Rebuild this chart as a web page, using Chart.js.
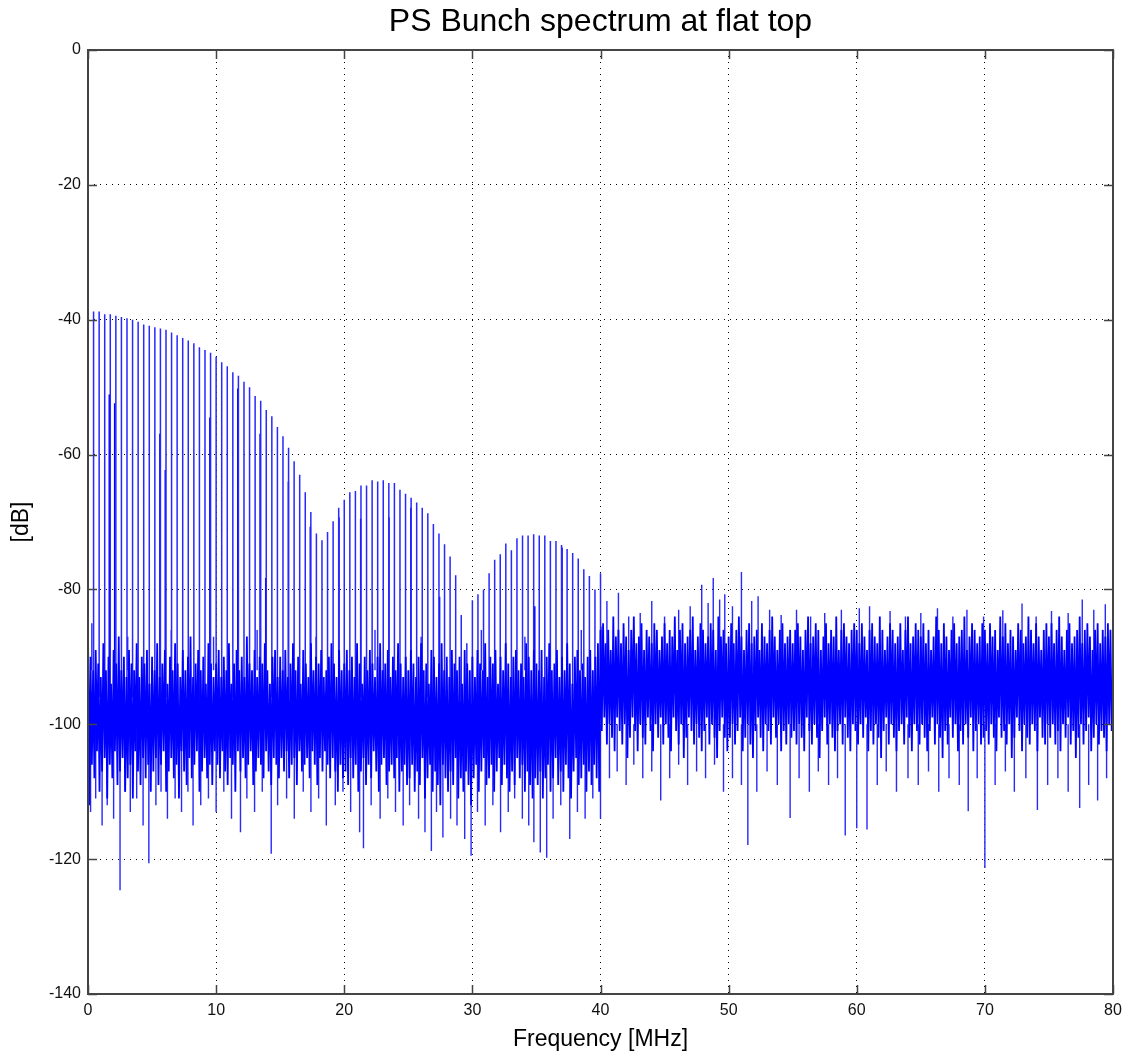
<!DOCTYPE html>
<html>
<head>
<meta charset="utf-8">
<title>PS Bunch spectrum at flat top</title>
<script src="https://cdn.jsdelivr.net/npm/chart.js@4.4.1/dist/chart.umd.min.js"></script>
<style>
  html, body { margin: 0; padding: 0; background: #fff; }
  #wrap { width: 1122px; height: 1055px; position: relative; }
  #title {
    position: absolute; left: 88px; width: 1025px; top: 2px;
    text-align: center; color: #000;
    font: 32px 'Liberation Sans', Arial, Helvetica, sans-serif;
  }
</style>
</head>
<body>
<div id="wrap">
  <div id="title">PS Bunch spectrum at flat top</div>
  <canvas id="spectrum"></canvas>
</div>
<script>
// axis ticks
const xTicks = [0, 10, 20, 30, 40, 50, 60, 70, 80];
const yTicks = [0, -20, -40, -60, -80, -100, -120, -140];

// revolution harmonics: peak level [dB] of harmonic n (n = index), spacing in MHz
const harmonicSpacing = 0.4348;
const harmonicPeaks = [
  -79,
  -38.8, -38.8, -39.2, -39.2, -39.4, -39.6, -39.8, -40.0, -40.3, -40.7,
  -40.9, -41.1, -41.3, -41.5, -41.9, -42.3, -42.7, -43.1, -43.5, -44.1,
  -44.5, -44.9, -45.5, -46.3, -46.9, -47.8, -48.3, -49.2, -50.0, -51.3,
  -52.0, -53.4, -54.3, -55.9, -57.3, -59.0, -61.0, -63.0, -65.6, -68.5,
  -71.7, -72.7, -71.5, -69.9, -67.9, -66.7, -65.6, -65.4, -64.6, -64.6,
  -63.8, -64.0, -63.8, -64.2, -64.2, -65.2, -65.8, -66.4, -67.1, -67.9,
  -68.7, -70.3, -71.7, -73.3, -75.1, -77.9, -83.8, -88.0, -81.6, -80.7,
  -80.0, -77.6, -75.6, -74.8, -73.2, -74.2, -72.4, -72.0, -72.0, -71.8,
  -72.0, -72.0, -72.8, -72.8, -73.4, -74.0, -74.6, -75.4, -77.0, -78.0,
  -80.0, -77.6
];
// weaker lines sitting right next to some harmonics [MHz, dB]
const sidebandPeaks = [
  [1.66, -51.1], [2.08, -52.4], [5.61, -56.9], [6.03, -62.3], [9.51, -54.5],
  [11.69, -50.2], [13.43, -56.9], [13.87, -78.3], [15.64, -64.0], [17.35, -70.7],
  [19.59, -69.3], [21.28, -69.5], [23.49, -69.3], [25.2, -67.9], [27.44, -81.1],
  [34.87, -82.5], [37.0, -73.8]
];

// noise floor, sampled every 0.2 MHz: upper and lower excursion
const noiseStep = 0.2;
const noiseHi = [
  -86, -90, -92, -89, -91, -93, -88, -92, -90, -94, -89, -91, -87, -92, -90, -93, -89, -91, -92, -88, -93, -90, -91, -89, -94,
  -90, -92, -88, -93, -91, -89, -94, -90, -92, -88, -91, -93, -89, -92, -90, -87, -93, -91, -89, -92, -90, -94, -88, -91, -93,
  -91, -89, -93, -90, -92, -88, -94, -91, -89, -92, -90, -93, -87, -91, -92, -89, -93, -90, -91, -88, -92, -94, -90, -89, -93,
  -90, -92, -89, -93, -91, -88, -92, -90, -94, -89, -91, -93, -88, -92, -90, -91, -89, -93, -92, -90, -88, -91, -93, -89, -92,
  -91, -89, -92, -90, -93, -88, -91, -94, -90, -92, -89, -91, -93, -90, -88, -92, -91, -89, -93, -90, -92, -88, -91, -93, -90,
  -92, -89, -91, -93, -90, -88, -92, -91, -94, -89, -90, -93, -91, -88, -92, -90, -93, -89, -91, -92, -90, -94, -89, -91, -92,
  -90, -93, -89, -91, -92, -88, -93, -90, -91, -89, -94, -90, -92, -88, -91, -93, -90, -89, -92, -91, -93, -88, -90, -92, -89,
  -91, -92, -89, -93, -90, -88, -92, -91, -89, -93, -90, -92, -88, -91, -94, -90, -89, -92, -91, -93, -90, -89, -92, -90, -88,
  -86, -85, -88, -86, -89, -84, -87, -86, -88, -85, -87, -89, -86, -84, -88, -87, -85, -89, -86, -87, -88, -85, -86, -89, -87,
  -85, -88, -86, -87, -84, -89, -86, -85, -88, -87, -86, -84, -89, -87, -85, -86, -88, -87, -85, -86, -89, -84, -87, -86, -88,
  -87, -85, -88, -86, -84, -87, -89, -86, -85, -88, -87, -86, -89, -85, -87, -88, -86, -84, -87, -89, -86, -85, -88, -87, -86,
  -88, -86, -85, -87, -89, -86, -84, -88, -87, -85, -86, -89, -87, -85, -88, -86, -87, -84, -89, -86, -85, -87, -88, -86, -85,
  -86, -88, -85, -87, -89, -86, -85, -87, -88, -84, -86, -89, -87, -85, -86, -88, -87, -85, -89, -86, -84, -88, -87, -85, -86,
  -87, -85, -88, -86, -89, -87, -84, -86, -88, -85, -87, -89, -86, -85, -88, -87, -86, -84, -89, -87, -85, -86, -88, -87, -85,
  -86, -88, -85, -87, -86, -89, -84, -87, -85, -88, -86, -87, -89, -85, -86, -88, -87, -84, -86, -88, -85, -87, -89, -86, -85,
  -87, -85, -88, -86, -84, -87, -89, -86, -85, -88, -87, -86, -84, -88, -86, -85, -87, -89, -86, -85, -88, -86, -87, -85, -86
];
const noiseLo = [
  -112, -106, -108, -104, -110, -107, -105, -111, -106, -108, -104, -109, -107, -105, -110, -108, -106, -111, -104, -107, -109, -105, -108, -106, -110,
  -107, -105, -109, -106, -104, -110, -107, -105, -108, -106, -111, -104, -107, -109, -105, -108, -106, -104, -110, -107, -105, -108, -106, -109, -104,
  -106, -108, -104, -107, -109, -105, -106, -110, -104, -107, -105, -108, -106, -104, -109, -107, -105, -106, -108, -104, -107, -109, -105, -106, -108,
  -105, -107, -104, -108, -106, -105, -109, -104, -107, -106, -105, -108, -104, -106, -109, -105, -107, -104, -106, -108, -105, -107, -110, -106, -108,
  -107, -109, -105, -108, -106, -110, -107, -105, -109, -106, -108, -104, -107, -110, -106, -105, -109, -107, -106, -108, -105, -110, -107, -106, -109,
  -108, -106, -110, -107, -109, -105, -111, -108, -106, -110, -107, -109, -112, -106, -108, -110, -107, -109, -105, -111, -108, -110, -107, -109, -112,
  -108, -106, -110, -107, -105, -109, -108, -106, -110, -107, -105, -109, -106, -108, -110, -107, -109, -105, -108, -106, -110, -107, -109, -111, -108,
  -109, -107, -111, -108, -106, -110, -108, -105, -109, -107, -110, -106, -108, -111, -107, -105, -109, -108, -106, -110, -107, -109, -106, -108, -110,
  -101, -99, -103, -100, -102, -104, -99, -101, -103, -100, -105, -102, -99, -101, -104, -100, -102, -103, -99, -101, -104, -100, -102, -99, -103,
  -100, -102, -104, -99, -101, -103, -100, -105, -102, -99, -101, -103, -100, -102, -104, -101, -99, -103, -100, -102, -105, -101, -99, -102, -104,
  -102, -100, -103, -101, -99, -104, -102, -100, -103, -105, -101, -99, -102, -104, -100, -101, -103, -99, -102, -100, -104, -101, -103, -100, -102,
  -101, -103, -100, -102, -104, -99, -101, -103, -100, -102, -105, -101, -99, -103, -100, -102, -104, -101, -100, -103, -99, -102, -104, -100, -101,
  -103, -100, -102, -99, -104, -101, -103, -100, -102, -105, -101, -99, -103, -100, -102, -104, -101, -100, -103, -99, -102, -104, -100, -101, -103,
  -100, -102, -104, -101, -99, -103, -100, -102, -105, -101, -103, -99, -102, -100, -104, -101, -103, -100, -102, -99, -104, -101, -100, -103, -102,
  -101, -103, -100, -102, -104, -99, -102, -101, -103, -100, -105, -102, -99, -101, -104, -100, -102, -103, -100, -101, -104, -99, -102, -103, -100,
  -102, -100, -103, -101, -104, -100, -102, -99, -103, -101, -105, -102, -100, -103, -101, -99, -104, -102, -100, -103, -101, -102, -104, -100, -101
];

// isolated deep dips below the floor [MHz, dB]
const dips = [
  [0.2, -113], [0.6, -111], [1.1, -115], [1.5, -112], [2.0, -114], [2.5, -124.6], [2.9, -110], [3.3, -113], [3.8, -111], [4.3, -115],
  [4.75, -120.6], [5.3, -112], [5.7, -110], [6.2, -114], [6.8, -111], [7.3, -113], [7.8, -110], [8.2, -115], [8.8, -112], [9.4, -111],
  [10.0, -113], [10.6, -110], [11.2, -114], [11.9, -116], [12.4, -111], [13.0, -113], [13.6, -110], [14.3, -119.2], [14.8, -112], [15.5, -111],
  [16.1, -114], [16.8, -110], [17.4, -113], [18.0, -111], [18.6, -115], [19.3, -112], [19.9, -110], [20.5, -113], [21.2, -116], [21.5, -118.4],
  [22.1, -112], [22.8, -114], [23.4, -111], [24.0, -113], [24.6, -115], [25.1, -112], [25.8, -114], [26.3, -116], [26.8, -118.8], [27.2, -113],
  [27.7, -116.8], [28.3, -114], [28.8, -115], [29.4, -117], [29.9, -119.5], [30.4, -113], [31.0, -115], [31.6, -112], [32.2, -116], [32.8, -113],
  [33.3, -111], [33.9, -114], [34.4, -115], [34.8, -117.5], [35.3, -119], [35.8, -119.8], [36.3, -114], [36.9, -112], [37.6, -117], [38.2, -113],
  [38.8, -114], [39.4, -111], [40.0, -114],
  [40.7, -108], [41.3, -107], [42.0, -109], [42.6, -106], [43.3, -108], [44.0, -107], [44.7, -111.3], [45.4, -108], [46.1, -106], [46.8, -109],
  [47.5, -107], [48.2, -108], [48.9, -106], [49.6, -110], [50.3, -108], [51.0, -109], [51.5, -117.9], [52.2, -110], [53.0, -107], [53.8, -109],
  [54.8, -113.9], [55.5, -108], [56.3, -110], [57.0, -107], [57.8, -109], [58.5, -108], [59.1, -116.5], [60.0, -115.4], [60.8, -115.6], [61.6, -109],
  [62.3, -107], [63.1, -110], [64.0, -108], [64.8, -109], [65.6, -107], [66.4, -110], [67.2, -108], [68.0, -109], [68.7, -112.9], [69.4, -108],
  [70.0, -121.3], [70.8, -109], [71.6, -107], [72.3, -110], [73.2, -108], [74.1, -112.7], [74.9, -109], [75.7, -108], [76.5, -110], [77.4, -112.4],
  [78.1, -109], [78.8, -111.3], [79.5, -108]
];
// isolated lines above the floor [MHz, dB]
const bumps = [
  [0.3, -85], [3.1, -87], [6.5, -86], [9.8, -87], [13.2, -86], [17.8, -87], [22.4, -86], [26.0, -87], [30.7, -86], [34.1, -87], [38.5, -86],
  [40.04, -85.5], [40.5, -81.7], [41.4, -80.5], [42.2, -84], [43.1, -83.5], [44.0, -81.7], [45.0, -84], [46.1, -83], [47.0, -82.5], [47.9, -79.3],
  [48.4, -82], [48.8, -78.3], [49.3, -81.5], [49.7, -80.7], [50.3, -82.5], [51.0, -77.4], [51.8, -81.7], [52.3, -81], [53.2, -83], [54.1, -83.8],
  [55.3, -83], [56.4, -84], [57.5, -83.5], [58.8, -83], [60.2, -82.8], [61.0, -82.5], [62.6, -83.2], [63.8, -84], [65.0, -83.5], [66.3, -82.8],
  [67.5, -84], [68.6, -83], [69.9, -84], [71.4, -83.1], [72.9, -82.1], [74.0, -84], [75.2, -83.2], [76.5, -83.5], [77.6, -81.5], [78.5, -83],
  [79.4, -82.2]
];

const blue = 'rgb(0,0,255)';
const lineBlue = 'rgb(40,40,255)';
const font = "'Liberation Sans', Arial, Helvetica, sans-serif";

// zigzag trace through the noise floor
const noisePoints = [];
for (let i = 0; i < noiseHi.length; i++) {
  noisePoints.push({x: i * noiseStep, y: noiseHi[i]});
  noisePoints.push({x: i * noiseStep + noiseStep / 2, y: noiseLo[i]});
}

// vertical strokes from a base level to each value, broken with nulls
function strokes(pairs, base) {
  const out = [];
  pairs.forEach(p => {
    out.push({x: p[0], y: base}, {x: p[0], y: p[1]}, {x: p[0], y: null});
  });
  return out;
}
const harmonicPairs = harmonicPeaks.map((v, n) => [n * harmonicSpacing, v]);

const frameBox = {
  id: 'frameBox',
  afterDatasetsDraw(chart) {
    const {ctx, chartArea: a, scales} = chart;
    ctx.save();
    ctx.strokeStyle = '#444';
    ctx.lineWidth = 1.5;
    ctx.beginPath();
    xTicks.forEach(v => {
      const px = Math.round(scales.x.getPixelForValue(v)) + 0.5;
      ctx.moveTo(px, a.bottom); ctx.lineTo(px, a.bottom - 9);
      ctx.moveTo(px, a.top); ctx.lineTo(px, a.top + 9);
    });
    yTicks.forEach(v => {
      const py = Math.round(scales.y.getPixelForValue(v)) + 0.5;
      ctx.moveTo(a.left, py); ctx.lineTo(a.left + 9, py);
      ctx.moveTo(a.right, py); ctx.lineTo(a.right - 9, py);
    });
    ctx.stroke();
    ctx.lineWidth = 2;
    ctx.strokeRect(a.left, a.top, a.right - a.left, a.bottom - a.top);
    ctx.restore();
  }
};

new Chart(document.getElementById('spectrum'), {
  type: 'line',
  data: {
    datasets: [
      {data: noisePoints, borderColor: blue, borderWidth: 1.8},
      {data: strokes(dips, -100), borderColor: lineBlue, borderWidth: 1.4},
      {data: strokes(bumps, -92), borderColor: lineBlue, borderWidth: 1.4},
      {data: strokes(harmonicPairs, -96), borderColor: lineBlue, borderWidth: 1.5},
      {data: strokes(sidebandPeaks, -96), borderColor: blue, borderWidth: 1.5}
    ]
  },
  options: {
    responsive: true,
    maintainAspectRatio: false,
    animation: false,
    events: [],
    spanGaps: false,
    elements: {point: {radius: 0}, line: {tension: 0}},
    layout: {padding: {left: 0, right: 9, top: 50, bottom: 0}},
    plugins: {
      legend: {display: false},
      tooltip: {enabled: false}
    },
    scales: {
      x: {
        type: 'linear',
        min: 0,
        max: 80,
        afterFit: s => { s.height = 61; s.paddingLeft = 0; s.paddingRight = 0; },
        ticks: {stepSize: 10, color: '#111', padding: 7, font: {family: font, size: 16}, maxRotation: 0},
        grid: {color: '#000', lineWidth: 1, drawTicks: false},
        border: {display: false, dash: [1, 5]},
        title: {display: true, text: 'Frequency [MHz]', color: '#000', font: {family: font, size: 23}, padding: {top: 0, bottom: 2}}
      },
      y: {
        type: 'linear',
        min: -140,
        max: 0,
        afterFit: s => { s.width = 88; s.paddingTop = 0; s.paddingBottom = 0; },
        ticks: {stepSize: 20, color: '#111', padding: 7, font: {family: font, size: 16}},
        grid: {color: '#000', lineWidth: 1, drawTicks: false},
        border: {display: false, dash: [1, 5]},
        title: {display: true, text: '[dB]', color: '#000', font: {family: font, size: 23}, padding: {top: 8, bottom: 0}}
      }
    }
  },
  plugins: [frameBox]
});
</script>
</body>
</html>
